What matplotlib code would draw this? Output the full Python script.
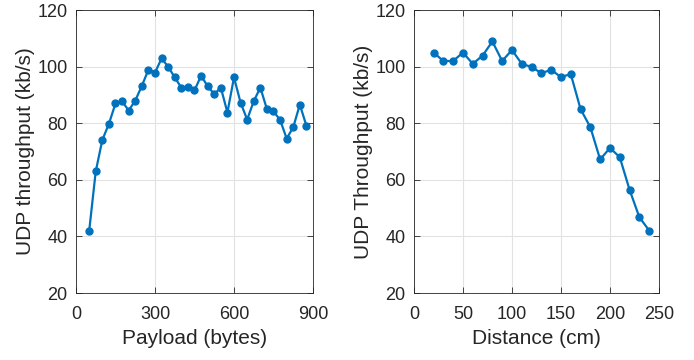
import matplotlib
matplotlib.use("Agg")
import matplotlib.pyplot as plt

payload = [50, 75, 100, 125, 150, 175, 200, 225, 250, 275, 300, 325, 350, 375,
           400, 425, 450, 475, 500, 525, 550, 575, 600, 625, 650, 675, 700, 725,
           750, 775, 800, 825, 850, 875]
payload_tput = [41.9, 63.0, 74.1, 79.8, 87.0, 87.8, 84.5, 88.0, 93.2, 98.9, 97.9,
                102.9, 100.0, 96.2, 92.6, 92.8, 91.6, 96.8, 93.1, 90.3, 92.6, 83.8,
                96.2, 87.3, 81.3, 87.8, 92.6, 85.0, 84.2, 81.2, 74.6, 78.6, 86.6, 79.1]

distance = [20, 30, 40, 50, 60, 70, 80, 90, 100, 110, 120, 130, 140, 150, 160,
            170, 180, 190, 200, 210, 220, 230, 240]
distance_tput = [105.0, 102.0, 102.0, 105.0, 101.0, 103.9, 108.9, 102.0, 105.9,
                 101.0, 99.9, 97.7, 98.9, 96.3, 97.4, 85.0, 78.6, 67.2, 71.3, 68.0,
                 56.5, 46.8, 42.1]

BLUE = "#0072BD"
TEXT = "#262626"
plt.rcParams["font.family"] = ["Liberation Sans", "DejaVu Sans"]

fig = plt.figure(figsize=(6.94, 3.6), dpi=100)
ax1 = fig.add_axes([0.1095, 0.186, 0.3415, 0.786])
ax2 = fig.add_axes([0.5965, 0.186, 0.353, 0.786])


def style(ax):
    ax.grid(True, color="#e2e2e2", linewidth=0.8)
    ax.set_axisbelow(True)
    ax.tick_params(direction="in", top=True, right=True, labelsize=13,
                   colors=TEXT, length=4, width=0.6)
    ax.tick_params(axis="x", pad=9)
    ax.tick_params(axis="y", pad=6)
    for s in ax.spines.values():
        s.set_color(TEXT)
        s.set_linewidth(0.6)


ax1.plot(payload, payload_tput, "-o", color=BLUE, linewidth=1.6, markersize=5)
ax1.set_xlim(0, 900)
ax1.set_ylim(20, 120)
ax1.set_xticks([0, 300, 600, 900])
ax1.set_yticks(range(20, 121, 20))
ax1.set_xlabel("Payload (bytes)", fontsize=15, color=TEXT, labelpad=5)
ax1.set_ylabel("UDP throughput (kb/s)", fontsize=15, color=TEXT, labelpad=2)
style(ax1)

ax2.plot(distance, distance_tput, "-o", color=BLUE, linewidth=1.6, markersize=5)
ax2.set_xlim(0, 250)
ax2.set_ylim(20, 120)
ax2.set_xticks(range(0, 251, 50))
ax2.set_yticks(range(20, 121, 20))
ax2.set_xlabel("Distance (cm)", fontsize=15, color=TEXT, labelpad=5)
ax2.set_ylabel("UDP Throughput (kb/s)", fontsize=15, color=TEXT, labelpad=2)
style(ax2)

fig.savefig("out.png", dpi=100)
